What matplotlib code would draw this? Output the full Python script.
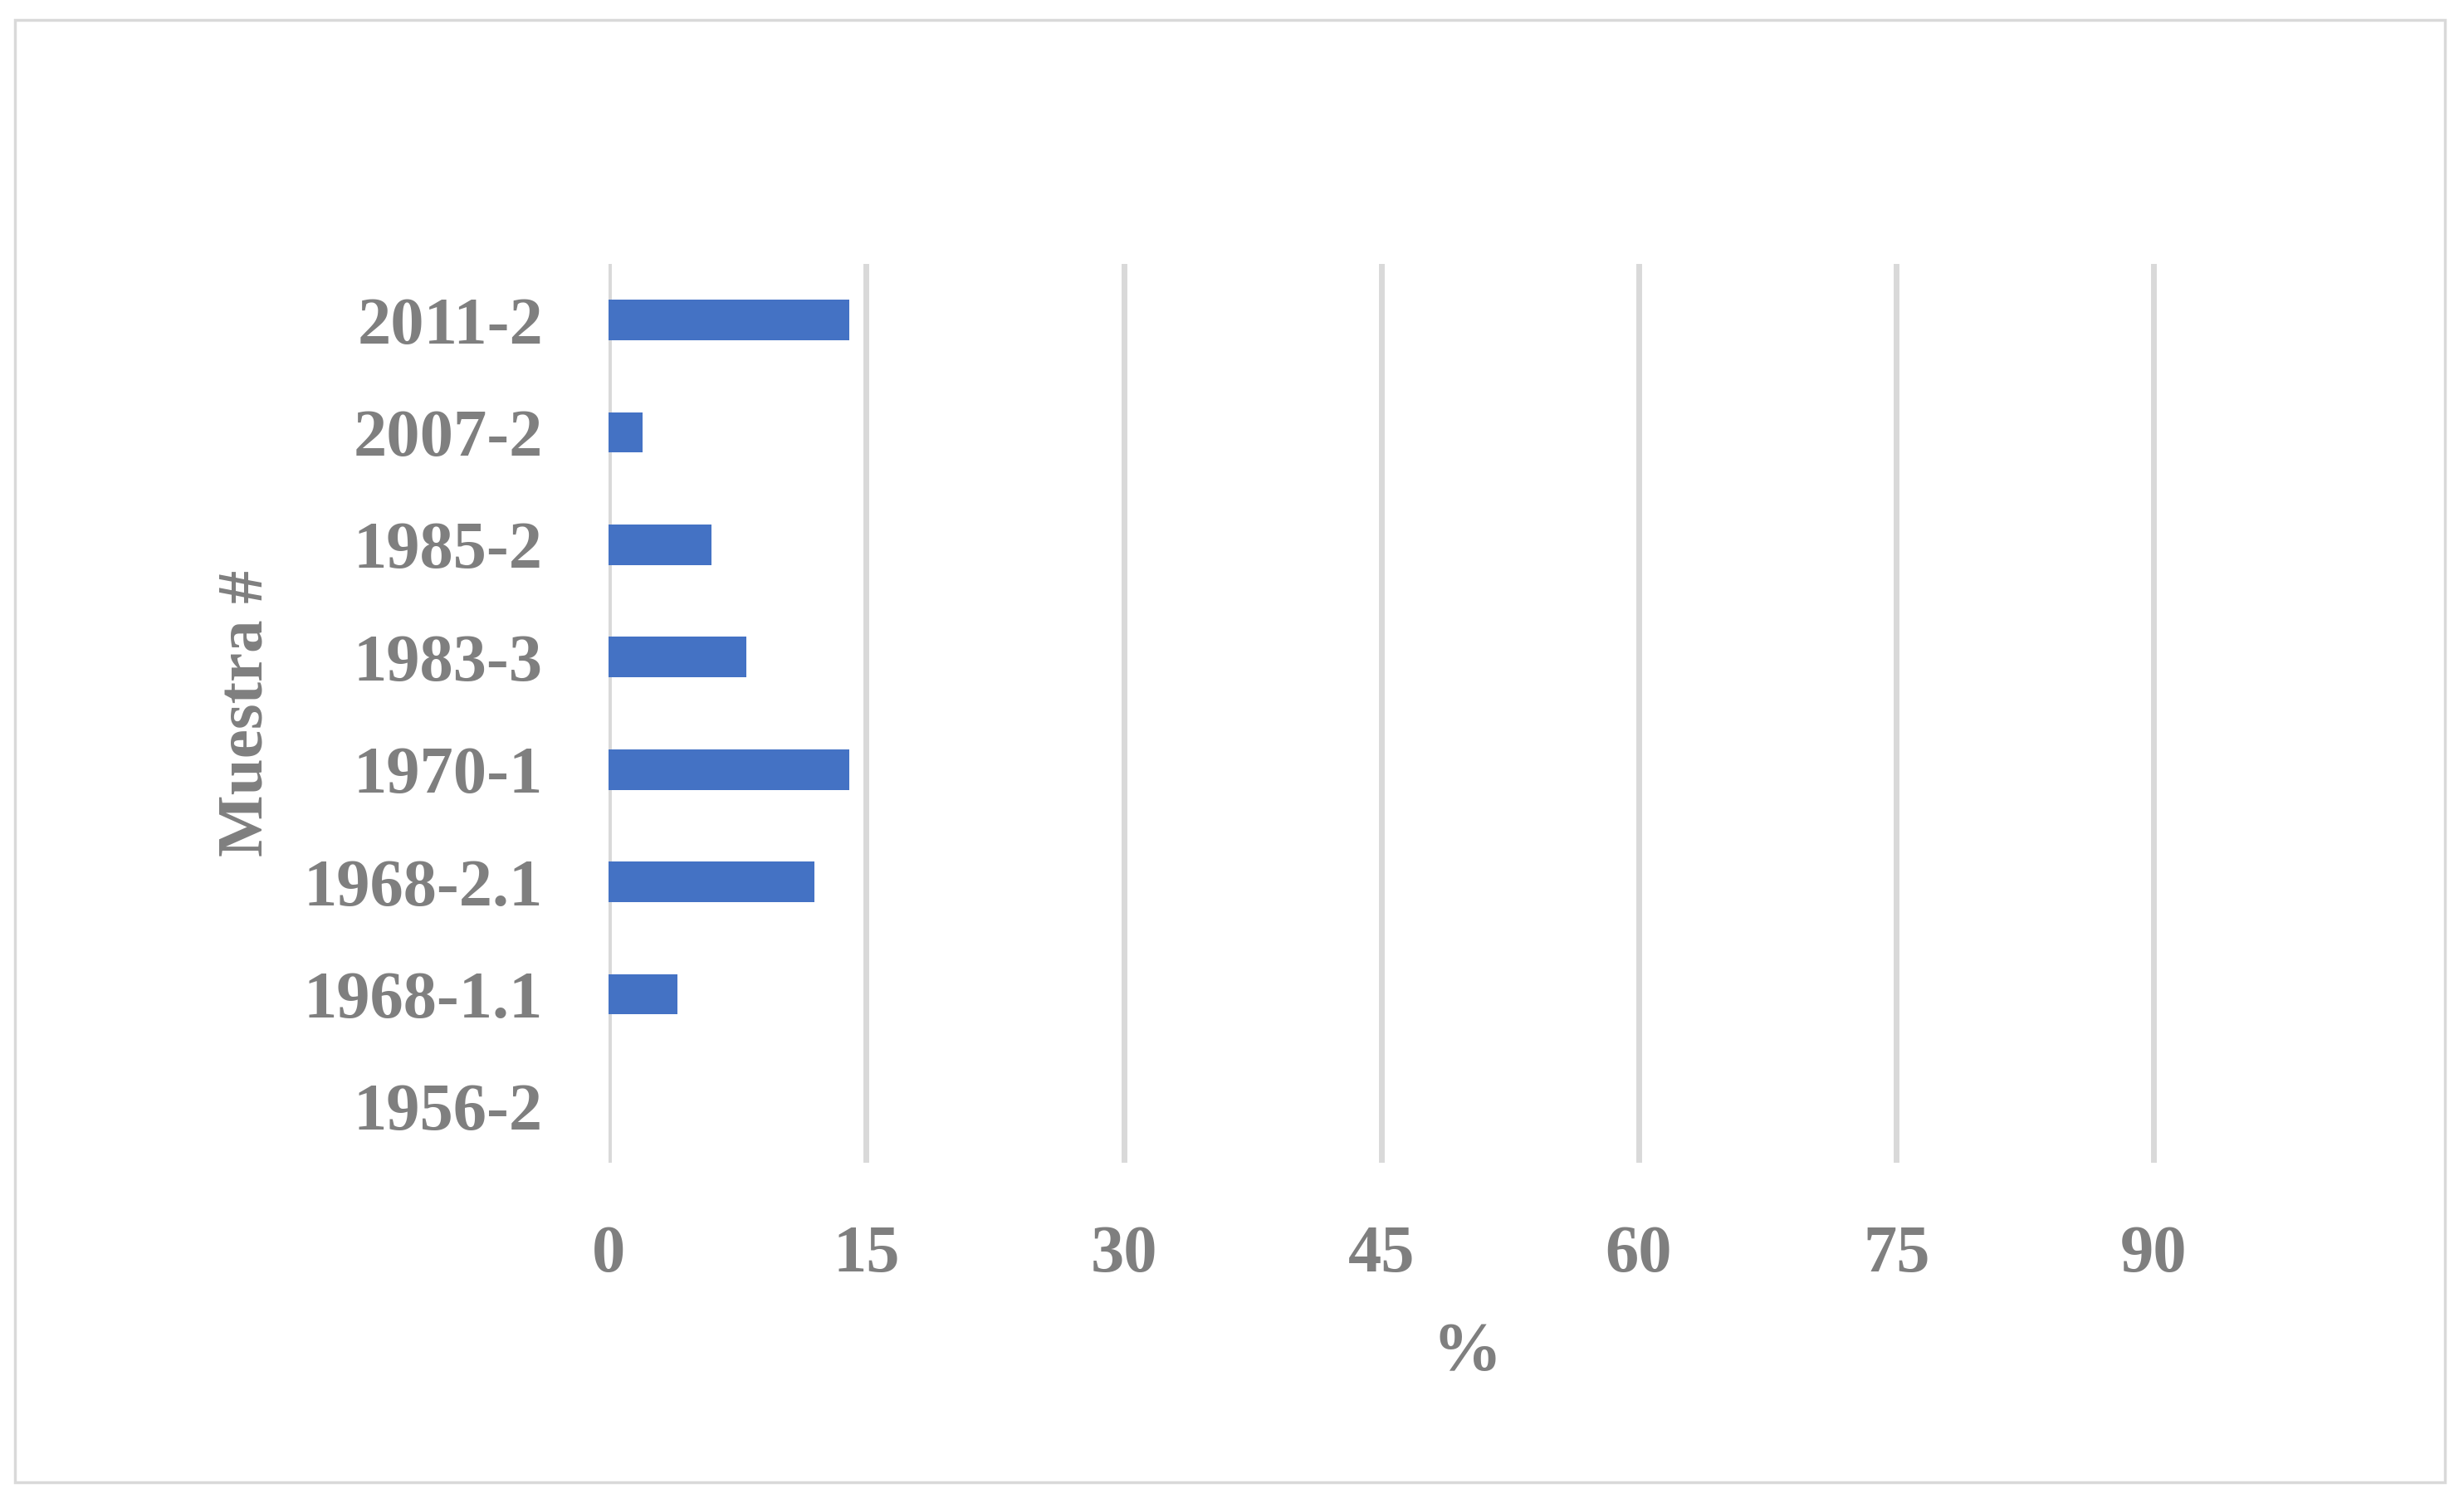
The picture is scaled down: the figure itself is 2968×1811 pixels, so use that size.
import matplotlib
matplotlib.use("Agg")
from matplotlib import pyplot as plt
from matplotlib.patches import Rectangle

# data, bottom row first
samples = ["1956-2", "1968-1.1", "1968-2.1", "1970-1",
           "1983-3", "1985-2", "2007-2", "2011-2"]
percent = [0, 4, 12, 14, 8, 6, 2, 14]
x_ticks = [0, 15, 30, 45, 60, 75, 90]

gray = "#7f7f7f"
grid_gray = "#d9d9d9"
bar_blue = "#4472c4"

plt.rcParams['font.family'] = ['Liberation Serif', 'DejaVu Serif']
plt.rcParams['font.weight'] = 'bold'

fig = plt.figure(figsize=(29.68, 18.11), dpi=100)
ax = fig.add_axes([0.2470, 0.2264, 0.6968, 0.5980])

pos = list(range(len(samples)))
ax.barh(pos, percent, height=0.36, color=bar_blue, zorder=3)

ax.set_xlim(0, 100)
ax.set_ylim(-0.5, len(samples) - 0.5)
ax.set_xticks(x_ticks)
ax.set_yticks(pos)
ax.set_yticklabels(samples)

ax.grid(axis='x', color=grid_gray, linewidth=5, zorder=0)
ax.grid(axis='y', visible=False)
for s in ax.spines.values():
    s.set_visible(False)

ax.tick_params(axis='y', length=0, pad=57, labelsize=58, labelcolor=gray)
ax.tick_params(axis='x', length=0, pad=54, labelsize=58, labelcolor=gray)
for lab in ax.get_xticklabels() + ax.get_yticklabels():
    lab.set_fontweight('bold')

ax.set_xlabel("%", fontsize=60, color=gray, fontweight='bold', va='center')
ax.xaxis.set_label_coords(0.5, -0.212)
ax.set_ylabel("Muestra #", fontsize=57, color=gray, fontweight='bold',
              va='center', ha='center')
ax.yaxis.set_label_coords(-0.211, 0.5)

# chart border
fig.patches.append(Rectangle((18 / 2968, 1 - 1786 / 1811),
                             (2945 - 18) / 2968, (1786 - 24) / 1811,
                             transform=fig.transFigure, fill=False,
                             edgecolor=grid_gray, linewidth=2.5))

fig.savefig("out.png", dpi=100, facecolor="white")
